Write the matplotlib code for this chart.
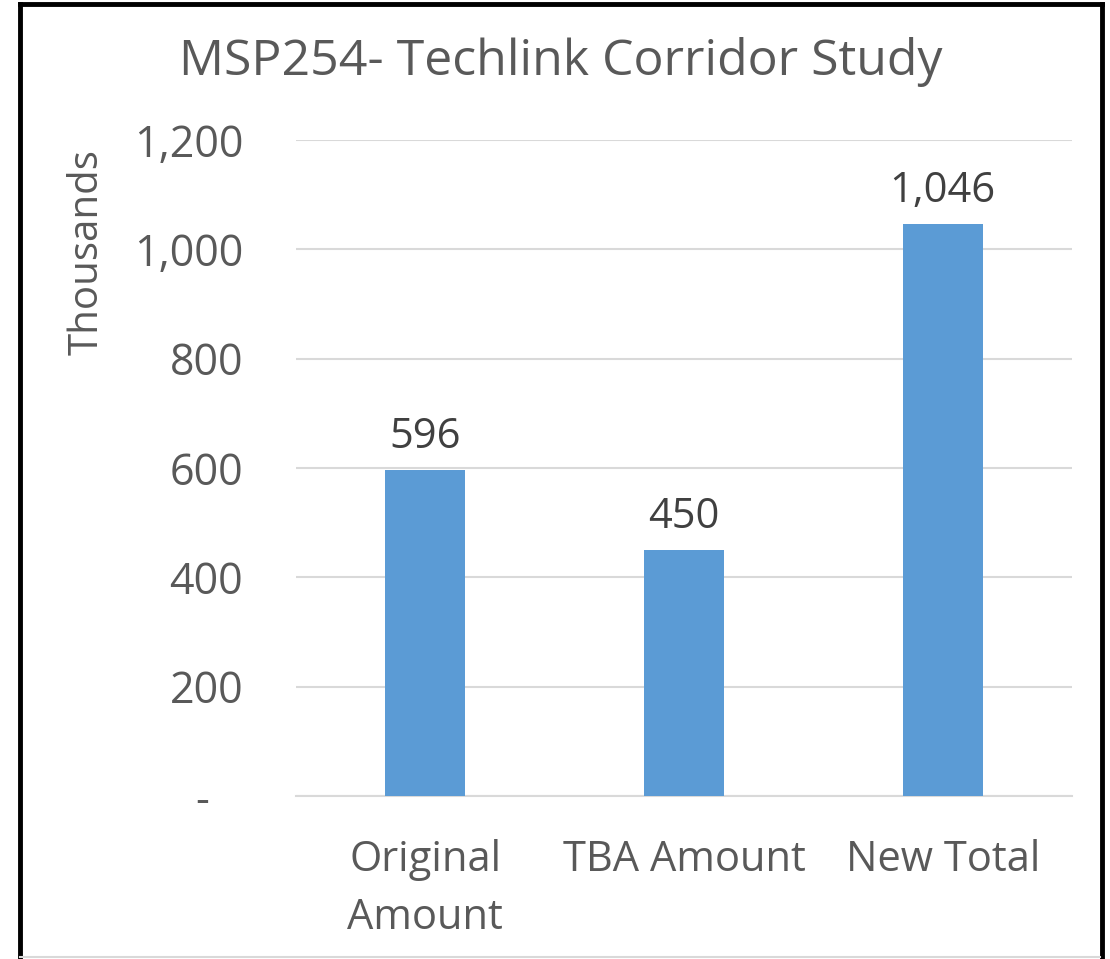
import matplotlib.pyplot as plt
from matplotlib.lines import Line2D

plt.rcParams['font.family'] = ['Open Sans', 'DejaVu Sans']

categories = ['Original\nAmount', 'TBA Amount', 'New Total']
values = [596, 450, 1046]
labels = ['596', '450', '1,046']
yticks = [0, 200, 400, 600, 800, 1000, 1200]

W, H = 1110, 959
fig = plt.figure(figsize=(W / 100, H / 100), dpi=100)
ax = fig.add_axes([296 / W, 1 - 796 / H, (1072 - 296) / W, (796 - 140) / H])

grey = '#595959'
x = range(len(categories))
ax.bar(x, values, width=0.31, color='#5B9BD5', zorder=3)
for xi, v, lab in zip(x, values, labels):
    ax.text(xi, v + 22, lab, ha='center', va='bottom', fontsize=30, color='#404040')

ax.set_xlim(-0.5, 2.5)
ax.set_ylim(0, 1200)
ax.set_yticks(yticks)
ax.set_yticklabels(['-   ' if t == 0 else f'{t:,}' for t in yticks], fontsize=31, color=grey)
ax.set_xticks(list(x))
ax.set_xticklabels(categories, fontsize=30, color=grey, linespacing=1.5)
ax.tick_params(length=0, axis='y', pad=38)
ax.tick_params(length=0, axis='x', pad=31)
ax.grid(axis='y', color='#d9d9d9', linewidth=1.5, zorder=0)
for s in ['top', 'right', 'left']:
    ax.spines[s].set_visible(False)
ax.spines['bottom'].set_color('#d9d9d9')
ax.spines['bottom'].set_linewidth(1.5)

ax.set_ylabel('Thousands', fontsize=29, color=grey, labelpad=0)
ax.yaxis.set_label_coords((108 - 296) / (1072 - 296), (796 - 252) / (796 - 140))

fig.text(561 / W, 1 - 62 / H, 'MSP254- Techlink Corridor Study', ha='center', va='center',
         fontsize=36, color=grey)

# outer frame
fig.add_artist(Line2D([20 / W, 20 / W], [0, 1 - 4 / H], color='black', linewidth=3.5))
fig.add_artist(Line2D([20 / W, 1102 / W], [1 - 4 / H, 1 - 4 / H], color='black', linewidth=3.5))
fig.add_artist(Line2D([1102 / W, 1102 / W], [0, 1 - 4 / H], color='black', linewidth=3.5))
fig.add_artist(Line2D([20 / W, 1100 / W], [1 - 957 / H, 1 - 957 / H], color='#d9d9d9', linewidth=1.5))

fig.savefig('out.png', dpi=100)
